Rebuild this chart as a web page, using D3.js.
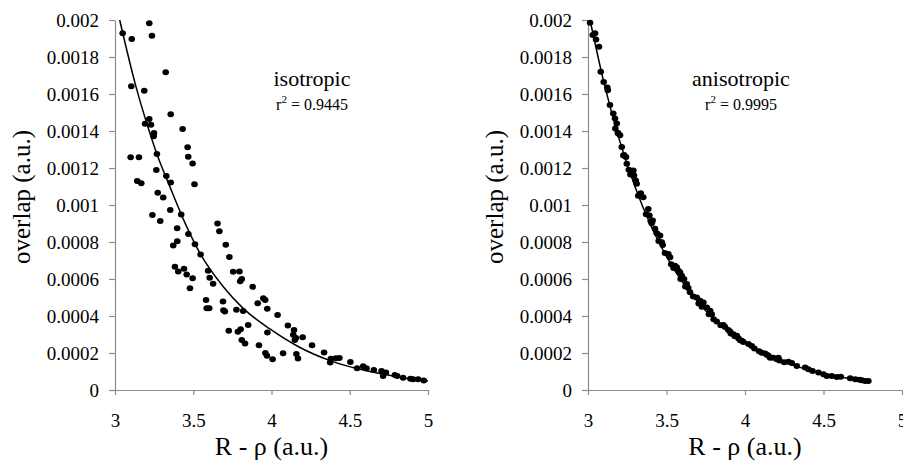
<!DOCTYPE html>
<html>
<head>
<meta charset="utf-8">
<script src="https://cdn.jsdelivr.net/npm/d3@7"></script>
<style>
  body { margin: 0; background: #fff; }
  text { font-family: "Liberation Serif", "Times New Roman", serif; }
</style>
</head>
<body>
<div id="canvas"></div>
<script>
"use strict"

/* isotropic points */
let isoX = [3.049, 3.219, 3.107, 3.236, 3.324, 3.104, 3.187, 3.356, 3.219, 3.192,
  3.230, 3.432, 3.249, 3.247, 3.464, 3.468, 3.100, 3.153, 3.268, 3.496,
  3.264, 3.328, 3.142, 3.168, 3.356, 3.508, 3.273, 3.308, 3.239, 3.289,
  3.353, 3.423, 3.397, 3.469, 3.398, 3.372, 3.655, 3.667, 3.511, 3.547,
  3.708, 3.731, 3.383, 3.404, 3.441, 3.458, 3.496, 3.479, 3.595, 3.605,
  3.627, 3.755, 3.795, 3.810, 3.800, 3.880, 3.582, 3.586, 3.602, 3.690,
  3.693, 3.702, 3.776, 3.819, 3.948, 3.960, 3.912, 3.973, 4.039, 3.851,
  3.727, 3.785, 3.803, 3.810, 3.831, 3.974, 3.920, 3.961, 3.971, 4.007,
  4.074, 4.105, 4.144, 4.139, 4.156, 4.199, 4.149, 4.259, 4.159, 4.169,
  4.336, 4.379, 4.411, 4.375, 4.434, 4.504, 4.547, 4.586, 4.607, 4.654,
  4.703, 4.731, 4.713, 4.788, 4.803, 4.841, 4.888, 4.905, 4.937, 4.973];
let isoY = [0.001928, 0.001982, 0.001897, 0.001915, 0.001717, 0.001642, 0.001618, 0.001490, 0.001465, 0.001439,
  0.001434, 0.001411, 0.001389, 0.001371, 0.001312, 0.001261, 0.001258, 0.001258, 0.001276, 0.001225,
  0.001189, 0.001157, 0.001130, 0.001117, 0.001122, 0.001112, 0.001066, 0.001041, 0.000946, 0.000914,
  0.000973, 0.000949, 0.000874, 0.000843, 0.000804, 0.000781, 0.000900, 0.000858, 0.000788, 0.000732,
  0.000785, 0.000719, 0.000666, 0.000641, 0.000655, 0.000625, 0.000604, 0.000550, 0.000645, 0.000607,
  0.000574, 0.000639, 0.000641, 0.000600, 0.000588, 0.000558, 0.000486, 0.000442, 0.000442, 0.000478,
  0.000431, 0.000425, 0.000434, 0.000427, 0.000496, 0.000486, 0.000469, 0.000439, 0.000405, 0.000351,
  0.000320, 0.000315, 0.000328, 0.000270, 0.000252, 0.000311, 0.000242, 0.000200, 0.000185, 0.000166,
  0.000199, 0.000348, 0.000324, 0.000299, 0.000281, 0.000285, 0.000270, 0.000242, 0.000195, 0.000170,
  0.000203, 0.000169, 0.000171, 0.000148, 0.000173, 0.000151, 0.000117, 0.000128, 0.000117, 0.000108,
  0.000103, 0.000094, 0.000076, 0.000081, 0.000076, 0.000066, 0.000061, 0.000058, 0.000058, 0.000051];

/* isotropic trend line */
let isoFitX = [3.030, 3.134, 3.213, 3.266, 3.355, 3.450, 3.543, 3.692, 3.819, 3.990, 4.170, 4.373, 4.600, 4.800, 5.000];
let isoFitY = [0.002000, 0.001640, 0.001415, 0.001280, 0.001090, 0.000898, 0.000739, 0.000558, 0.000441, 0.000330, 0.000235, 0.000159, 0.000105, 0.000072, 0.000049];

/* anisotropic points */
let anisoX = [3.013, 3.030, 3.045, 3.051, 3.070, 3.081, 3.100, 3.123, 3.126, 3.140,
  3.161, 3.172, 3.183, 3.174, 3.190, 3.193, 3.204, 3.215, 3.225, 3.230,
  3.242, 3.247, 3.260, 3.270, 3.289, 3.293, 3.304, 3.310, 3.320, 3.336,
  3.352, 3.370, 3.384, 3.391, 3.400, 3.406, 3.412, 3.427, 3.438, 3.450,
  3.459, 3.470, 3.476, 3.490, 3.512, 3.523, 3.530, 3.545, 3.554, 3.565,
  3.576, 3.586, 3.590, 3.597, 3.612, 3.620, 3.629, 3.639, 3.650, 3.670,
  3.693, 3.705, 3.714, 3.725, 3.735, 3.757, 3.770, 3.778, 3.788, 3.800,
  3.820, 3.845, 3.862, 3.873, 3.894, 3.905, 3.910, 3.926, 3.935, 3.948,
  3.958, 3.969, 3.980, 3.990, 4.022, 4.043, 4.060, 4.090, 4.107, 4.128,
  4.139, 4.150, 4.160, 4.181, 4.203, 4.213, 4.220, 4.250, 4.277, 4.298,
  4.330, 4.383, 4.404, 4.430, 4.468, 4.500, 4.521, 4.553, 4.585, 4.610,
  4.670, 4.702, 4.730, 4.744, 4.765, 4.786];
let anisoY = [0.001985, 0.001919, 0.001928, 0.001895, 0.001855, 0.001720, 0.001665, 0.001635, 0.001620, 0.001540,
  0.001494, 0.001467, 0.001440, 0.001413, 0.001390, 0.001386, 0.001377, 0.001313, 0.001268, 0.001270,
  0.001259, 0.001223, 0.001190, 0.001165, 0.001187, 0.001160, 0.001133, 0.001115, 0.001050, 0.001064,
  0.001042, 0.000950, 0.000979, 0.000943, 0.000912, 0.000901, 0.000916, 0.000871, 0.000847, 0.000805,
  0.000835, 0.000798, 0.000784, 0.000740, 0.000735, 0.000717, 0.000680, 0.000660, 0.000672, 0.000663,
  0.000645, 0.000636, 0.000600, 0.000618, 0.000600, 0.000560, 0.000573, 0.000551, 0.000528, 0.000505,
  0.000500, 0.000468, 0.000482, 0.000450, 0.000473, 0.000446, 0.000410, 0.000428, 0.000410, 0.000383,
  0.000370, 0.000350, 0.000352, 0.000341, 0.000324, 0.000316, 0.000305, 0.000302, 0.000290, 0.000293,
  0.000280, 0.000269, 0.000266, 0.000260, 0.000248, 0.000238, 0.000225, 0.000210, 0.000202, 0.000197,
  0.000190, 0.000185, 0.000175, 0.000175, 0.000166, 0.000175, 0.000160, 0.000150, 0.000153, 0.000146,
  0.000130, 0.000121, 0.000112, 0.000103, 0.000094, 0.000085, 0.000076, 0.000076, 0.000070, 0.000071,
  0.000063, 0.000058, 0.000055, 0.000053, 0.000049, 0.000049];

/* anisotropic trend line */
let anisoFitX = [3.013, 3.100, 3.200, 3.300, 3.400, 3.500, 3.600, 3.700, 3.800, 3.900, 4.000, 4.200, 4.400, 4.600, 4.786];
let anisoFitY = [0.002000, 0.001667, 0.001352, 0.001097, 0.000889, 0.000721, 0.000585, 0.000475, 0.000385, 0.000312, 0.000253, 0.000167, 0.000110, 0.000072, 0.000049];

/* axis ticks */
let xTicks = [3, 3.5, 4, 4.5, 5];
let xTickLabels = ["3", "3.5", "4", "4.5", "5"];
let yTicks = [0, 0.0002, 0.0004, 0.0006, 0.0008, 0.001, 0.0012, 0.0014, 0.0016, 0.0018, 0.002];
let yTickLabels = ["0", "0.0002", "0.0004", "0.0006", "0.0008", "0.001", "0.0012", "0.0014", "0.0016", "0.0018", "0.002"];

let serif = "Liberation Serif, Times New Roman, serif";

let drawing = d3.select("#canvas")
  .append("svg")
  .attr("width", 903)
  .attr("height", 462);

/* one scatter panel: axes, trend line, dots, labels */
function drawPanel(left, right, xs, ys, fitX, fitY, name, r2, labelX) {
  let x = d3.scaleLinear().domain([3, 5]).range([left, right]);
  let y = d3.scaleLinear().domain([0, 0.002]).range([390, 20]);

  let xAxis = drawing.append("g")
    .attr("transform", "translate(0,390)")
    .call(d3.axisBottom(x).tickValues(xTicks)
      .tickFormat((d, i) => xTickLabels[i])
      .tickSize(5).tickSizeOuter(0).tickPadding(19));

  let yAxis = drawing.append("g")
    .attr("transform", "translate(" + left + ",0)")
    .call(d3.axisLeft(y).tickValues(yTicks)
      .tickFormat((d, i) => yTickLabels[i])
      .tickSize(6).tickSizeOuter(0).tickPadding(10));

  xAxis.attr("font-family", serif).attr("font-size", 19);
  yAxis.attr("font-family", serif).attr("font-size", 19);
  drawing.selectAll(".domain, .tick line")
    .attr("stroke", "#8c8c8c")
    .attr("stroke-width", 1.2);
  drawing.selectAll(".tick text").attr("fill", "#000");

  /* trend line */
  let fit = fitX.map((d, i) => [d, fitY[i]]);
  drawing.append("path")
    .attr("d", d3.line().x(d => x(d[0])).y(d => y(d[1])).curve(d3.curveMonotoneX)(fit))
    .attr("fill", "none")
    .attr("stroke", "black")
    .attr("stroke-width", 1.5);

  /* data points */
  drawing.append("g")
    .selectAll("ellipse")
    .data(xs.map((d, i) => [d, ys[i]]))
    .join("ellipse")
    .attr("cx", d => x(d[0]))
    .attr("cy", d => y(d[1]))
    .attr("rx", 3.3)
    .attr("ry", 3)
    .attr("fill", "black");

  /* axis titles */
  drawing.append("text")
    .attr("x", (left + right) / 2)
    .attr("y", 455)
    .attr("text-anchor", "middle")
    .attr("font-size", 26)
    .text("R - \u03c1 (a.u.)");

  drawing.append("text")
    .attr("transform", "translate(" + (left - 85) + ",197) rotate(-90)")
    .attr("text-anchor", "middle")
    .attr("font-size", 25)
    .text("overlap (a.u.)");

  /* name and r squared */
  drawing.append("text")
    .attr("x", labelX)
    .attr("y", 86)
    .attr("text-anchor", "middle")
    .attr("font-size", 22)
    .text(name);

  let r2Text = drawing.append("text")
    .attr("x", labelX)
    .attr("y", 110)
    .attr("text-anchor", "middle")
    .attr("font-size", 16);
  r2Text.append("tspan").text("r");
  r2Text.append("tspan").attr("font-size", 11).attr("dy", -7).text("2");
  r2Text.append("tspan").attr("dy", 7).text(" = " + r2);
}

drawPanel(115, 428, isoX, isoY, isoFitX, isoFitY, "isotropic", "0.9445", 312);
drawPanel(588, 902, anisoX, anisoY, anisoFitX, anisoFitY, "anisotropic", "0.9995", 741);
</script>
</body>
</html>
